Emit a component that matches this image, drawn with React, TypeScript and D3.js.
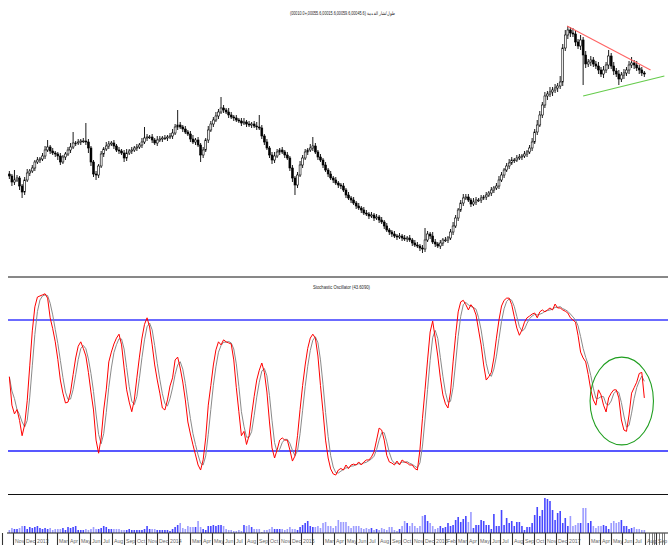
import React from 'react';
import * as d3 from 'd3';

// ---------- DATA (weekly bars) ----------
const START = new Date(2012, 9, 22); // first weekly bar
const firstOpen = 101;

const closes = [
  99, 93, 95, 97, 89, 83, 95, 102, 104, 107,
  113, 115, 116, 119, 125, 128, 124, 122, 121, 119,
  113, 118, 121, 125, 128, 132, 132, 133, 134, 134,
  133, 127, 113, 101, 100, 109, 121, 126, 129, 131,
  132, 129, 125, 124, 122, 117, 122, 124, 125, 127,
  128, 130, 133, 137, 138, 138, 135, 132, 135, 136,
  137, 137, 138, 139, 142, 148, 150, 148, 146, 143,
  141, 136, 133, 135, 130, 120, 125, 135, 145, 151,
  155, 159, 163, 167, 165, 163, 160, 158, 157, 155,
  154, 152, 153, 151, 150, 151, 149, 148, 147, 139,
  133, 127, 120, 115, 119, 123, 125, 123, 120, 117,
  107, 97, 90, 100, 110, 117, 123, 125, 127, 129,
  123, 118, 115, 110, 105, 101, 97, 95, 92, 90,
  89, 85, 80, 77, 75, 72, 69, 67, 65, 62,
  61, 59, 60, 57, 58, 55, 53, 49, 45, 43,
  41, 39, 38, 39, 37, 36, 37, 35, 32, 30,
  29, 27, 26, 35, 41, 39, 33, 31, 29, 32,
  35, 35, 37, 43, 49, 57, 65, 72, 77, 78,
  75, 71, 73, 75, 75, 77, 78, 80, 82, 85,
  87, 89, 95, 100, 105, 109, 112, 115, 115, 117,
  118, 119, 121, 123, 127, 133, 143, 150, 160, 170,
  179, 181, 183, 185, 187, 189, 193, 227, 240, 245,
  242, 241, 233, 229, 235, 220, 211, 213, 215, 211,
  209, 205, 201, 205, 210, 219, 209, 204, 201, 196,
  200, 202, 205, 210, 212, 210, 207, 205, 202, 201,
];

const upWick = [
  3, 2, 10, 3, 2, 2, 3, 4, 2, 3,
  2, 3, 2, 3, 4, 7, 2, 3, 2, 2,
  3, 2, 2, 3, 4, 11, 2, 3, 2, 3,
  18, 3, 2, 2, 3, 2, 3, 2, 4, 3,
  2, 3, 2, 3, 2, 3, 4, 2, 3, 2,
  3, 2, 4, 11, 3, 2, 3, 2, 4, 3,
  2, 3, 2, 3, 4, 3, 15, 3, 2, 3,
  2, 3, 4, 2, 3, 2, 3, 2, 4, 3,
  3, 4, 3, 11, 3, 2, 4, 3, 2, 3,
  2, 3, 4, 2, 3, 2, 3, 4, 12, 3,
  2, 3, 2, 3, 4, 3, 2, 3, 2, 3,
  2, 3, 2, 3, 4, 3, 3, 2, 4, 9,
  3, 2, 3, 2, 3, 2, 3, 2, 3, 2,
  2, 3, 2, 3, 2, 3, 2, 3, 2, 3,
  3, 2, 3, 2, 3, 2, 3, 2, 3, 2,
  2, 3, 2, 3, 2, 3, 2, 3, 2, 3,
  3, 2, 3, 12, 3, 2, 4, 3, 2, 3,
  2, 3, 2, 3, 4, 3, 2, 3, 4, 3,
  3, 2, 4, 3, 2, 3, 2, 3, 2, 3,
  2, 3, 4, 3, 2, 3, 4, 3, 2, 3,
  3, 2, 3, 2, 3, 4, 3, 5, 4, 3,
  4, 3, 5, 3, 4, 3, 6, 4, 5, 4,
  3, 5, 4, 3, 5, 3, 4, 3, 4, 3,
  3, 4, 3, 4, 3, 6, 3, 4, 3, 4,
  3, 4, 3, 4, 6, 3, 4, 3, 3, 2,
];

const dnWick = [
  3, 4, 3, 2, 4, 6, 3, 2, 3, 2,
  3, 2, 3, 2, 3, 2, 3, 2, 3, 4,
  3, 2, 3, 2, 3, 2, 3, 2, 3, 2,
  3, 5, 4, 3, 5, 3, 2, 3, 2, 3,
  2, 3, 2, 3, 2, 4, 3, 2, 3, 2,
  3, 2, 3, 2, 3, 2, 3, 2, 3, 2,
  3, 2, 3, 2, 3, 2, 3, 2, 3, 2,
  2, 3, 2, 3, 2, 7, 3, 2, 3, 2,
  3, 2, 3, 2, 3, 2, 3, 2, 3, 2,
  2, 3, 2, 3, 2, 3, 2, 3, 2, 3,
  3, 2, 3, 4, 3, 2, 3, 2, 3, 2,
  3, 4, 10, 3, 2, 3, 2, 3, 2, 3,
  2, 3, 2, 3, 2, 3, 2, 3, 2, 3,
  3, 2, 3, 2, 3, 2, 3, 2, 3, 2,
  2, 3, 2, 3, 2, 3, 2, 3, 2, 3,
  3, 2, 3, 2, 3, 2, 3, 2, 3, 2,
  2, 3, 4, 3, 2, 3, 2, 3, 2, 3,
  3, 2, 3, 2, 3, 2, 3, 2, 3, 2,
  2, 3, 2, 3, 2, 3, 2, 3, 2, 3,
  3, 2, 3, 2, 3, 2, 3, 2, 3, 2,
  2, 3, 2, 3, 2, 3, 2, 3, 2, 3,
  3, 4, 3, 4, 3, 4, 3, 4, 3, 4,
  4, 3, 4, 3, 4, 30, 4, 3, 4, 3,
  3, 4, 3, 4, 3, 4, 3, 4, 3, 6,
  3, 4, 3, 4, 3, 4, 3, 4, 3, 3,
];

const stochK = [
  54, 41, 37, 39, 34, 27, 32, 43, 59, 75,
  86, 90.5, 91, 91.5, 92, 90, 81, 76, 70, 62,
  52.5, 46.5, 42, 42.4, 47, 55, 62.6, 68, 70, 67,
  63.5, 56, 47, 38.8, 25, 19, 26, 38.8, 48, 60.8,
  65.3, 69, 71.7, 73.5, 68.6, 58, 48, 42.4, 38, 43.4,
  53.5, 63, 71.7, 78, 81, 76.8, 68.6, 59.4, 52.5, 46.5,
  39.7, 38.8, 43.4, 49.8, 53.5, 61.7, 63, 58, 51.6, 43.4,
  33.3, 27.8, 22.8, 18.2, 13.6, 11.3, 16, 26, 41, 50,
  59.4, 66.3, 70, 68.6, 70.9, 70, 69.5, 69, 61.7, 49,
  38, 27, 29, 23, 27, 36.5, 45, 52.5, 57, 60.3,
  56, 47, 33.3, 21.4, 16.8, 20.5, 25, 26, 25, 25,
  20.5, 15.4, 17.7, 27, 39, 50, 59.4, 67, 71.7, 73.5,
  71.7, 63.5, 50, 38, 25, 16.8, 11.8, 9.5, 9, 11.3,
  12, 11.3, 13.6, 12, 13.6, 14, 13.6, 15, 13.6, 15,
  15.9, 15.9, 17.3, 19.6, 25, 30.5, 29.6, 25, 18, 15,
  14.5, 13.6, 15.4, 13.6, 15.9, 15, 14.5, 13.6, 13.6, 12,
  11.3, 20.5, 35, 48, 61.7, 74.5, 79.5, 71.7, 63.5, 53.5,
  45.7, 41.6, 39.7, 47, 60.8, 73, 83.7, 88.3, 89, 87,
  84.6, 87, 85.5, 82.3, 75.4, 68.6, 59.4, 52.5, 54, 56,
  62.6, 71.7, 80, 86.4, 89, 90, 90, 87, 81.5, 76.3,
  73, 75.4, 79, 81, 81.8, 82.7, 83.2, 81, 83.7, 84.6,
  83.7, 84.6, 85.5, 84.6, 87.3, 85.5, 85.5, 84.6, 84, 83.2,
  81, 80, 79, 73, 65.3, 62.6, 60.8, 55, 48, 43.4,
  41, 48, 45.7, 41, 37.9, 44.3, 46.5, 48, 48, 44.3,
  34.2, 29.6, 29, 36.5, 46.5, 49, 51.5, 55.5, 56, 44.3,
];

const volume = [
  3, 5, 4, 4, 5, 7, 7, 4, 6, 5,
  6, 7, 5, 4, 5, 4, 5, 3, 4, 4,
  4, 5, 3, 6, 5, 6, 7, 3, 3, 3,
  4, 3, 4, 6, 4, 4, 5, 7, 6, 4,
  4, 4, 4, 4, 3, 3, 3, 4, 3, 3,
  3, 3, 3, 4, 7, 4, 4, 4, 3, 3,
  3, 3, 3, 2, 4, 6, 8, 10, 5, 4,
  7, 6, 6, 6, 12, 6, 4, 3, 7, 7,
  8, 7, 8, 8, 7, 4, 3, 3, 2, 2,
  3, 2, 8, 7, 8, 6, 4, 4, 4, 1,
  3, 3, 4, 6, 4, 4, 4, 4, 3, 4,
  6, 4, 4, 3, 6, 8, 10, 12, 7, 6,
  6, 7, 5, 10, 11, 7, 7, 5, 7, 13,
  11, 11, 11, 7, 5, 7, 7, 7, 5, 4,
  5, 4, 5, 3, 4, 3, 5, 4, 3, 6,
  6, 3, 2, 4, 7, 12, 10, 7, 10, 7,
  5, 7, 17, 18, 12, 10, 7, 4, 5, 7,
  5, 6, 10, 7, 8, 13, 16, 11, 14, 17,
  11, 21, 5, 8, 8, 13, 12, 8, 8, 4,
  19, 7, 7, 23, 8, 15, 10, 12, 7, 11,
  11, 7, 3, 6, 6, 10, 18, 26, 17, 23,
  35, 34, 32, 23, 13, 20, 22, 10, 15, 7,
  17, 7, 8, 10, 10, 25, 25, 10, 12, 7,
  5, 7, 7, 8, 7, 4, 10, 12, 10, 11,
  13, 7, 7, 4, 5, 6, 4, 4, 3, 3,
];

// annotations drawn on the chart
const resistance = [
  { date: new Date(2016, 11, 31), value: 249 },
  { date: new Date(2017, 7, 17), value: 205 },
];
const support = [
  { date: new Date(2017, 1, 13), value: 179 },
  { date: new Date(2017, 8, 24), value: 199 },
];
const circleBox = { from: new Date(2017, 2, 4), to: new Date(2017, 7, 25), top: 63, bottom: 22.8 };

const overbought = 80;
const oversold = 20;
const hiddenLabels = ['2012-10', '2013-02', '2014-02', '2015-02', '2017-02'];

const titleText = '(00010.0+,00055.6,00015.6,00059.6,00045.6) طول/تشار القدمة';
const stochTitle = 'Stochastic Oscillator (43.6090)';

// ---------- CHART ----------
const W = 668;
const H = 546;

export default function App() {
  const dates = closes.map((_, i) => d3.timeDay.offset(START, 7 * i));
  const opens = closes.map((_, i) => (i === 0 ? firstOpen : closes[i - 1]));

  const x = d3.scaleTime()
    .domain([new Date(2012, 10, 1), new Date(2017, 8, 1)])
    .range([13, 656]);
  const yP = d3.scaleLinear().domain([0, 275]).range([275, 0]);
  const yS = d3.scaleLinear().domain([0, 100]).range([494.7, 276.3]);
  const yV = d3.scaleLinear().domain([0, 36]).range([533, 497]);

  // signal line: 3-period moving average of %K
  const stochD = stochK.map((_, i) => d3.mean(stochK.slice(Math.max(0, i - 2), i + 1)) as number);

  const line = d3.line<number>()
    .x((_, i) => x(dates[i]))
    .y((d) => yS(d));

  const trend = d3.line<{ date: Date; value: number }>()
    .x((d) => x(d.date))
    .y((d) => yP(d.value));

  const months = d3.timeMonth.range(new Date(2012, 9, 1), new Date(2017, 9, 1));
  const lastDate = dates[dates.length - 1];
  const extraWeeks = d3.timeWeek.range(d3.timeDay.offset(lastDate, 7), new Date(2017, 9, 1))
    .filter((d) => d.getDate() > 3);
  const fmtKey = d3.timeFormat('%Y-%m');
  const fmtMon = d3.timeFormat('%b');

  const bw = 1.9;

  const ex0 = x(circleBox.from);
  const ex1 = x(circleBox.to);
  const ey0 = yS(circleBox.top);
  const ey1 = yS(circleBox.bottom);

  return (
    <svg
      width={W}
      height={H}
      style={{ position: 'absolute', left: 0, top: 0, background: '#fff' }}
      fontFamily="'Liberation Sans', Arial, sans-serif"
    >
      {/* titles */}
      <text x={290} y={14.5} fontSize={5} fill="#222" direction="ltr" textLength={105} lengthAdjust="spacingAndGlyphs">
        {titleText}
      </text>
      <text x={313} y={289} fontSize={5} fill="#222" textLength={57} lengthAdjust="spacingAndGlyphs">
        {stochTitle}
      </text>

      {/* candles */}
      <g>
        {closes.map((c, i) => {
          const o = opens[i];
          const cx = x(dates[i]);
          const hi = Math.max(o, c) + upWick[i];
          const lo = Math.min(o, c) - dnWick[i];
          const top = yP(Math.max(o, c));
          const bot = yP(Math.min(o, c));
          const up = c >= o;
          return (
            <g key={i}>
              <line x1={cx} x2={cx} y1={yP(hi)} y2={yP(lo)} stroke="#000" strokeWidth={0.9} />
              <rect
                x={cx - bw / 2}
                y={top}
                width={bw}
                height={Math.max(0.8, bot - top)}
                fill={up ? '#fff' : '#000'}
                stroke="#000"
                strokeWidth={0.6}
              />
            </g>
          );
        })}
      </g>

      {/* trend lines */}
      <path d={trend(resistance) || ''} fill="none" stroke="#ff6464" strokeWidth={1.1} />
      <path d={trend(support) || ''} fill="none" stroke="#66cc4c" strokeWidth={1.1} />

      {/* panel separators */}
      <line x1={8} x2={W} y1={277} y2={277} stroke="#111" strokeWidth={1} />
      <line x1={8} x2={W} y1={494.5} y2={494.5} stroke="#111" strokeWidth={1} />

      {/* stochastic */}
      <line x1={8} x2={W} y1={yS(overbought)} y2={yS(overbought)} stroke="#3a3aff" strokeWidth={1.6} />
      <line x1={8} x2={W} y1={yS(oversold)} y2={yS(oversold)} stroke="#2020ff" strokeWidth={1.6} />
      <path d={line(stochD) || ''} fill="none" stroke="#8a8a8a" strokeWidth={1} />
      <path d={line(stochK) || ''} fill="none" stroke="#ff0000" strokeWidth={1} />
      <ellipse
        cx={(ex0 + ex1) / 2}
        cy={(ey0 + ey1) / 2}
        rx={(ex1 - ex0) / 2}
        ry={(ey1 - ey0) / 2}
        fill="none"
        stroke="#1f9e1f"
        strokeWidth={1.1}
      />

      {/* volume */}
      <g>
        {volume.map((v, i) => {
          const cx = x(dates[i]);
          const up = closes[i] >= opens[i];
          return (
            <rect
              key={i}
              x={cx - 0.8}
              y={yV(v)}
              width={1.6}
              height={yV(0) - yV(v)}
              fill={up ? '#4646ff' : '#9c9cff'}
            />
          );
        })}
      </g>

      {/* time axis */}
      <line x1={7} x2={W} y1={yV(0)} y2={yV(0)} stroke="#222" strokeWidth={1} />
      {months.map((m) => {
        const mx = Math.round(x(m)) + 0.5;
        const key = fmtKey(m);
        const label = m.getMonth() === 0 ? String(m.getFullYear()) : fmtMon(m);
        return (
          <g key={key}>
            <line x1={mx} x2={mx} y1={yV(0)} y2={545} stroke="#333" strokeWidth={1.1} />
            {!hiddenLabels.includes(key) && (
              <text x={mx + 1.5} y={542.5} fontSize={5.2} fill="#666">
                {label}
              </text>
            )}
          </g>
        );
      })}
      {extraWeeks.map((w, i) => {
        const wx = Math.round(x(w)) + 0.5;
        return <line key={'w' + i} x1={wx} x2={wx} y1={yV(0)} y2={545} stroke="#555" strokeWidth={0.8} />;
      })}
    </svg>
  );
}
